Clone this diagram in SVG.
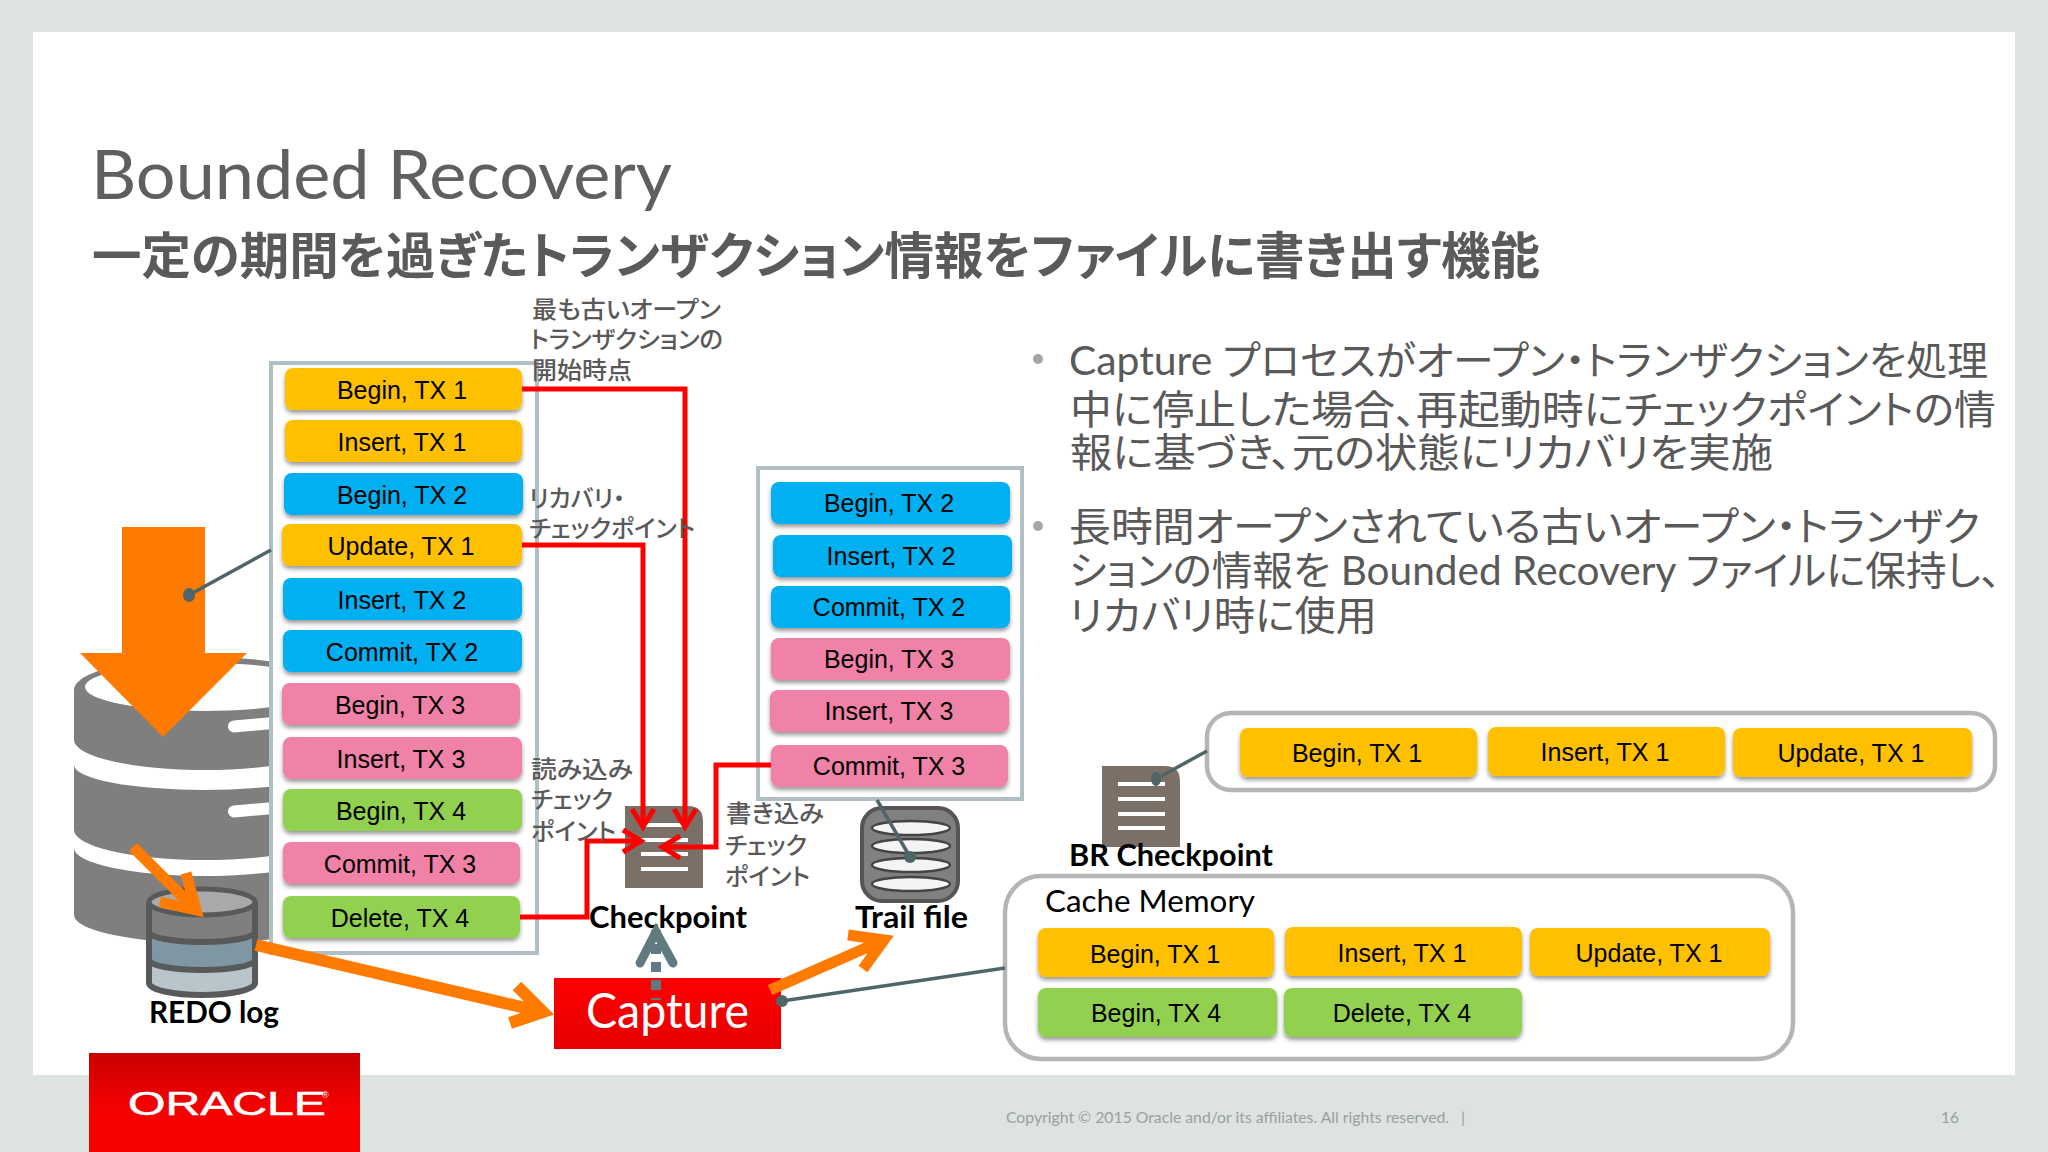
<svg xmlns="http://www.w3.org/2000/svg" width="2048" height="1152" viewBox="0 0 2048 1152">
<defs>
<style>
.r{filter:url(#sh)}
.y{fill:#ffc000}.b{fill:#00b0f0}.p{fill:#f082a8}.g{fill:#92d050}
.t{font-family:"Liberation Sans",Arial,sans-serif;font-size:25px;fill:#000;text-anchor:middle}
.jl{font-family:"Noto Sans CJK JP",sans-serif;font-size:24px;fill:#595959;font-weight:500;font-feature-settings:"palt"}
.bl{font-family:"Lato","Noto Sans CJK JP",sans-serif;font-size:40px;fill:#595959;font-feature-settings:"palt"}
.lb{font-family:"Lato","Noto Sans",sans-serif;font-weight:700;font-size:31px;fill:#000}
.red{fill:none;stroke:#f00;stroke-width:5}
.or{fill:none;stroke:#ff7b00;stroke-width:11}
.or2{fill:none;stroke:#ff7b00;stroke-width:12}
.cn{fill:none;stroke:#4f6669;stroke-width:3.5}
.dot{fill:#4f6669}
.frame{fill:#fff;stroke:#b0bfc3;stroke-width:4}
.round{fill:#fff;stroke:#b5b5b5;stroke-width:4.5}
.doc{fill:#7a7067}
.docl{stroke:#fff;stroke-width:4;fill:none}
.disk{fill:#7f7f7f}
</style>
<filter id="sh" x="-5%" y="-15%" width="110%" height="140%"><feDropShadow dx="0" dy="3" stdDeviation="2" flood-color="#000" flood-opacity=".4"/></filter>
<linearGradient id="capg" x1="0" y1="0" x2="0" y2="1"><stop offset="0" stop-color="#ff0000"/><stop offset="1" stop-color="#e60000"/></linearGradient>
<linearGradient id="orag" x1="0" y1="0" x2="0" y2="1"><stop offset="0" stop-color="#c80000"/><stop offset=".6" stop-color="#f80000"/><stop offset="1" stop-color="#f80000"/></linearGradient>
<marker id="rh" markerUnits="userSpaceOnUse" markerWidth="30" markerHeight="30" refX="21" refY="15" orient="auto"><path d="M3 4 L21 15 L3 26" fill="none" stroke="#f00" stroke-width="5"/></marker>
</defs>

<rect id="bg" x="0" y="0" width="2048" height="1152" fill="#dde3e1"/>
<rect id="slide" x="33" y="32" width="1982" height="1043" fill="#fff"/>

<g id="title">
<text x="91" y="199" textLength="581" lengthAdjust="spacingAndGlyphs" font-family="Lato,'Noto Sans',sans-serif" font-size="67" fill="#5f5f5f">Bounded Recovery</text>
<text x="92" y="274" textLength="1448" lengthAdjust="spacingAndGlyphs" font-family="'Noto Sans CJK JP',sans-serif" font-weight="700" font-size="50" fill="#5a5a5a" style="font-feature-settings:'palt'">一定の期間を過ぎたトランザクション情報をファイルに書き出す機能</text>
</g>

<g id="database">
<path class="disk" d="M74 690 A131 33 0 0 1 336 690 V740 A131 30 0 0 1 74 740 Z"/>
<ellipse cx="205" cy="687" rx="120" ry="24" fill="#fff"/>
<path class="disk" d="M74 765 A131 25 0 0 0 336 765 V830 A131 30 0 0 1 74 830 Z"/>
<path class="disk" d="M74 848 A131 28 0 0 0 336 848 V915 A131 28 0 0 1 74 915 Z"/>
<rect x="228" y="721" width="60" height="12" rx="6" fill="#fff" transform="rotate(-5 228 727)"/>
<rect x="228" y="806" width="60" height="12" rx="6" fill="#fff" transform="rotate(-5 228 812)"/>
</g>

<g id="source-box">
<rect class="frame" x="271" y="363" width="266" height="590"/>
<g id="s1"><rect class="r y" x="285" y="368" width="237" height="42" rx="8"/><text class="t" x="402" y="399">Begin, TX 1</text></g>
<g id="s2"><rect class="r y" x="285" y="420" width="237" height="42" rx="8"/><text class="t" x="402" y="451">Insert, TX 1</text></g>
<g id="s3"><rect class="r b" x="284" y="473" width="239" height="42" rx="8"/><text class="t" x="402" y="504">Begin, TX 2</text></g>
<g id="s4"><rect class="r y" x="282" y="524" width="240" height="42" rx="8"/><text class="t" x="401" y="555">Update, TX 1</text></g>
<g id="s5"><rect class="r b" x="283" y="578" width="239" height="42" rx="8"/><text class="t" x="402" y="609">Insert, TX 2</text></g>
<g id="s6"><rect class="r b" x="283" y="630" width="239" height="42" rx="8"/><text class="t" x="402" y="661">Commit, TX 2</text></g>
<g id="s7"><rect class="r p" x="282" y="683" width="238" height="42" rx="8"/><text class="t" x="400" y="714">Begin, TX 3</text></g>
<g id="s8"><rect class="r p" x="283" y="737" width="239" height="42" rx="8"/><text class="t" x="401" y="768">Insert, TX 3</text></g>
<g id="s9"><rect class="r g" x="283" y="789" width="239" height="42" rx="8"/><text class="t" x="401" y="820">Begin, TX 4</text></g>
<g id="s10"><rect class="r p" x="283" y="842" width="237" height="42" rx="8"/><text class="t" x="400" y="873">Commit, TX 3</text></g>
<g id="s11"><rect class="r g" x="283" y="896" width="237" height="42" rx="8"/><text class="t" x="400" y="927">Delete, TX 4</text></g>
</g>

<g id="big-arrow"><path d="M122 527 H205 V653 H247 L163 737 L80 653 H122 Z" fill="#ff7b00"/></g>

<g id="redo-log">
<path d="M149 902 V983 A53 12 0 0 0 255 983 V902 Z" fill="#7f7f7f"/>
<path d="M149 932 A53 10 0 0 0 255 932 V960 A53 10 0 0 1 149 960 Z" fill="#7f97a2"/>
<path d="M149 960 A53 10 0 0 0 255 960 V983 A53 12 0 0 1 149 983 Z" fill="#b9c5cb"/>
<path d="M149 902 V983 A53 12 0 0 0 255 983 V902 M149 932 A53 10 0 0 0 255 932 M149 960 A53 10 0 0 0 255 960" fill="none" stroke="#58595b" stroke-width="6"/>
<ellipse cx="202" cy="902" rx="53" ry="13" fill="#a9a9ab" stroke="#58595b" stroke-width="5"/>
<text class="lb" x="149" y="1023" textLength="130" lengthAdjust="spacingAndGlyphs">REDO log</text>
</g>

<g id="target-box">
<rect class="frame" x="758" y="468" width="264" height="331"/>
<g id="d1"><rect class="r b" x="771" y="482" width="239" height="42" rx="8"/><text class="t" x="889" y="512">Begin, TX 2</text></g>
<g id="d2"><rect class="r b" x="773" y="535" width="239" height="42" rx="8"/><text class="t" x="891" y="565">Insert, TX 2</text></g>
<g id="d3"><rect class="r b" x="771" y="586" width="239" height="42" rx="8"/><text class="t" x="889" y="616">Commit, TX 2</text></g>
<g id="d4"><rect class="r p" x="771" y="638" width="239" height="42" rx="8"/><text class="t" x="889" y="668">Begin, TX 3</text></g>
<g id="d5"><rect class="r p" x="770" y="690" width="239" height="42" rx="8"/><text class="t" x="889" y="720">Insert, TX 3</text></g>
<g id="d6"><rect class="r p" x="771" y="745" width="237" height="42" rx="8"/><text class="t" x="889" y="775">Commit, TX 3</text></g>
</g>

<g id="checkpoint">
<path class="doc" d="M625 806 H688 Q703 806 703 821 V888 H625 Z"/>
<path class="docl" d="M641 825 H688 M641 840 H688 M641 854 H688 M641 869 H688"/>
<text class="lb" x="589" y="928" textLength="158" lengthAdjust="spacingAndGlyphs">Checkpoint</text>
</g>

<g id="trail-file">
<rect x="862" y="808" width="96" height="93" rx="20" fill="#808080" stroke="#555" stroke-width="4"/>
<g fill="#f4f4f4" stroke="#444" stroke-width="2.5"><ellipse cx="911" cy="828" rx="39" ry="7"/><ellipse cx="911" cy="846" rx="39" ry="7"/><ellipse cx="911" cy="865" rx="39" ry="7"/><ellipse cx="911" cy="884" rx="39" ry="7"/></g>
<text class="lb" x="855" y="928" textLength="113" lengthAdjust="spacingAndGlyphs">Trail file</text>
</g>

<g id="capture">
<rect x="554" y="978" width="227" height="71" fill="url(#capg)"/>
<text x="586" y="1028" textLength="163" lengthAdjust="spacingAndGlyphs" font-family="Lato,'Noto Sans',sans-serif" font-size="48" fill="#fff">Capture</text>
</g>

<g id="br-checkpoint">
<path class="doc" d="M1102 766 H1165 Q1180 766 1180 781 V847 H1102 Z"/>
<path class="docl" d="M1118 784 H1165 M1118 799 H1165 M1118 814 H1165 M1118 828 H1165"/>
<text class="lb" x="1069" y="866" textLength="204" lengthAdjust="spacingAndGlyphs">BR Checkpoint</text>
</g>

<g id="br-box">
<rect class="round" x="1207" y="713" width="788" height="77" rx="24"/>
<g id="b1"><rect class="r y" x="1240" y="728" width="237" height="49" rx="8"/><text class="t" x="1357" y="762">Begin, TX 1</text></g>
<g id="b2"><rect class="r y" x="1488" y="727" width="237" height="49" rx="8"/><text class="t" x="1605" y="761">Insert, TX 1</text></g>
<g id="b3"><rect class="r y" x="1733" y="728" width="239" height="49" rx="8"/><text class="t" x="1851" y="762">Update, TX 1</text></g>
</g>

<g id="cache-box">
<rect class="round" x="1005" y="876" width="788" height="183" rx="36"/>
<text x="1045" y="912" textLength="210" lengthAdjust="spacingAndGlyphs" font-family="Lato,'Noto Sans',sans-serif" font-size="31" fill="#000">Cache Memory</text>
<g id="c1"><rect class="r y" x="1038" y="928" width="236" height="49" rx="8"/><text class="t" x="1155" y="963">Begin, TX 1</text></g>
<g id="c2"><rect class="r y" x="1285" y="927" width="237" height="49" rx="8"/><text class="t" x="1402" y="962">Insert, TX 1</text></g>
<g id="c3"><rect class="r y" x="1530" y="928" width="240" height="48" rx="8"/><text class="t" x="1649" y="962">Update, TX 1</text></g>
<g id="c4"><rect class="r g" x="1038" y="988" width="239" height="49" rx="8"/><text class="t" x="1156" y="1022">Begin, TX 4</text></g>
<g id="c5"><rect class="r g" x="1284" y="988" width="238" height="49" rx="8"/><text class="t" x="1402" y="1022">Delete, TX 4</text></g>
</g>

<g id="connectors">
<path class="red" marker-end="url(#rh)" d="M522 389 H685 V827"/>
<path class="red" marker-end="url(#rh)" d="M522 545 H643 V827"/>
<path class="red" marker-end="url(#rh)" d="M520 917 H587 V841 H641"/>
<path class="red" marker-end="url(#rh)" d="M771 765 H716 V847 H662"/>
<path class="cn" d="M189 595 L271 550"/><ellipse class="dot" cx="189" cy="595" rx="6" ry="7"/>
<path class="cn" d="M877 800 L910 857"/><circle class="dot" cx="910" cy="857" r="6"/>
<path class="cn" d="M782 1001 L1005 968"/><circle class="dot" cx="782" cy="1001" r="6"/>
<path class="cn" d="M1156 779 L1207 751"/><ellipse class="dot" cx="1156" cy="779" rx="5" ry="7"/>
<path class="or" d="M133 847 L196 910 M186 873 L196 910 L160 902"/>
<path class="or2" d="M256 945 L543 1012 M517 986 L543 1012 L510 1023"/>
<path class="or" d="M770 990 L884 940 M848 935 L884 940 L863 969"/>
<path d="M656 1000 V930" fill="none" stroke="#5f7a80" stroke-width="10" stroke-dasharray="10 8" stroke-dashoffset="8"/>
<path d="M640 963 L656 932 L673 963" fill="none" stroke="#5f7a80" stroke-width="9" stroke-linecap="round"/>
</g>

<g id="labels">
<text class="jl" x="532" y="318" textLength="189" lengthAdjust="spacingAndGlyphs">最も古いオープン</text>
<text class="jl" x="530" y="348" textLength="193" lengthAdjust="spacingAndGlyphs">トランザクションの</text>
<text class="jl" x="532" y="379" textLength="100" lengthAdjust="spacingAndGlyphs">開始時点</text>
<text class="jl" x="529" y="507" textLength="96" lengthAdjust="spacingAndGlyphs">リカバリ・</text>
<text class="jl" x="529" y="537" textLength="166" lengthAdjust="spacingAndGlyphs">チェックポイント</text>
<text class="jl" x="531" y="778" textLength="102" lengthAdjust="spacingAndGlyphs">読み込み</text>
<text class="jl" x="531" y="808" textLength="82" lengthAdjust="spacingAndGlyphs">チェック</text>
<text class="jl" x="531" y="840" textLength="85" lengthAdjust="spacingAndGlyphs">ポイント</text>
<text class="jl" x="726" y="822" textLength="98" lengthAdjust="spacingAndGlyphs">書き込み</text>
<text class="jl" x="725" y="854" textLength="82" lengthAdjust="spacingAndGlyphs">チェック</text>
<text class="jl" x="725" y="885" textLength="85" lengthAdjust="spacingAndGlyphs">ポイント</text>
</g>

<g id="bullets">
<circle cx="1038" cy="359" r="5" fill="#a6a6a6"/>
<circle cx="1038" cy="526" r="5" fill="#a6a6a6"/>
<text class="bl" x="1069" y="375" textLength="919" lengthAdjust="spacingAndGlyphs">Capture プロセスがオープン・トランザクションを処理</text>
<text class="bl" x="1070" y="424" textLength="926" lengthAdjust="spacingAndGlyphs">中に停止した場合、再起動時にチェックポイントの情</text>
<text class="bl" x="1070" y="467" textLength="703" lengthAdjust="spacingAndGlyphs">報に基づき、元の状態にリカバリを実施</text>
<text class="bl" x="1069" y="541" textLength="911" lengthAdjust="spacingAndGlyphs">長時間オープンされている古いオープン・トランザク</text>
<text class="bl" x="1069" y="585" textLength="932" lengthAdjust="spacingAndGlyphs">ションの情報を Bounded Recovery ファイルに保持し、</text>
<text class="bl" x="1069" y="630" textLength="308" lengthAdjust="spacingAndGlyphs">リカバリ時に使用</text>
</g>

<g id="footer">
<rect x="89" y="1053" width="271" height="99" fill="url(#orag)"/>
<text x="128" y="1115" textLength="198" lengthAdjust="spacingAndGlyphs" font-family="'Liberation Sans',sans-serif" font-size="34" fill="#fff" stroke="#fff" stroke-width=".6">ORACLE</text>
<text x="322" y="1098" font-family="'Liberation Sans',sans-serif" font-size="9" fill="#fff">®</text>
<text x="1006" y="1123" textLength="443" lengthAdjust="spacingAndGlyphs" font-family="Lato,'Noto Sans',sans-serif" font-size="16" fill="#9aa0a0">Copyright © 2015 Oracle and/or its affiliates. All rights reserved.</text>
<text x="1461" y="1123" font-family="Lato,'Noto Sans',sans-serif" font-size="16" fill="#9aa0a0">|</text>
<text x="1941" y="1123" textLength="18" lengthAdjust="spacingAndGlyphs" font-family="Lato,'Noto Sans',sans-serif" font-size="16" fill="#9aa0a0">16</text>
</g>
</svg>
